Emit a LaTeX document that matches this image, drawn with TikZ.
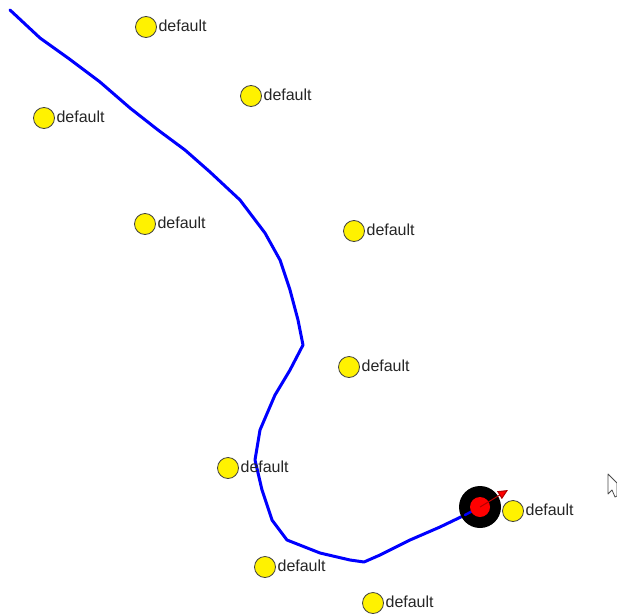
\documentclass[tikz,border=0pt]{standalone}
\usepackage{fontspec}
\setmainfont{Liberation Sans}
\usetikzlibrary{arrows.meta}
\begin{document}
\begin{tikzpicture}[x=1pt,y=-1pt,
  beacon/.style={circle,draw=black!75,fill=yellow,line width=0.8pt,minimum size=21pt,inner sep=0pt},
  blab/.style={anchor=west,inner sep=0pt,font=\fontsize{16}{17}\selectfont,text=black!85},
  trail/.style={blue,line width=3pt,line join=round,line cap=round}]
\useasboundingbox (0,0) rectangle (617,615);
\fill[white] (0,0) rectangle (617,615);
% trail
\coordinate (start) at (10,10);
\coordinate (rc) at (480,507);
\draw[trail] (start) -- (40,38) -- (68,58) -- (100,82) -- (130,108) -- (158,130) -- (185,150) -- (210,172) -- (240,200) -- (265,233) -- (280,260) -- (290,290) -- (298,320) -- (303,345) -- (290,370) -- (275,395) -- (260,430) -- (255,460) -- (262,490) -- (272,520) -- (287,540) -- (320,553) -- (350,560) -- (364,562) -- (380,555) -- (410,540) -- (440,527) -- (465,515) -- (rc);
% beacons
\foreach \n/\x/\y in {b1/146/27, b2/251/96, b3/44/118, b4/145/224, b5/354/231, b6/349/367, b7/228/468, b8/513/511, b9/265/567, b10/373/603}{
  \node[beacon] (\n) at (\x,\y) {};
  \node[blab] (\n l) at ([xshift=1.5pt,yshift=1.5pt]\n.east) {default};
}
% robot
\node[circle,fill=black,minimum size=42pt,inner sep=0pt] (robot) at (rc) {};
\draw[trail,line width=2.5pt] (465,515) -- (rc);
\node[circle,fill=red,minimum size=20pt,inner sep=0pt] (core) at (rc) {};
\coordinate (head) at (508,490);
\draw[red!70!black,line width=1pt,-{Triangle[length=10pt,width=9pt,fill=red]}] (core.center) -- (head);
% cursor
\draw[black!70,fill=white,line width=0.8pt,line join=round] (608,474) -- (608,494) -- (612,490) -- (615,497) -- (617,496) -- (617,483) -- cycle;
\end{tikzpicture}
\end{document}
